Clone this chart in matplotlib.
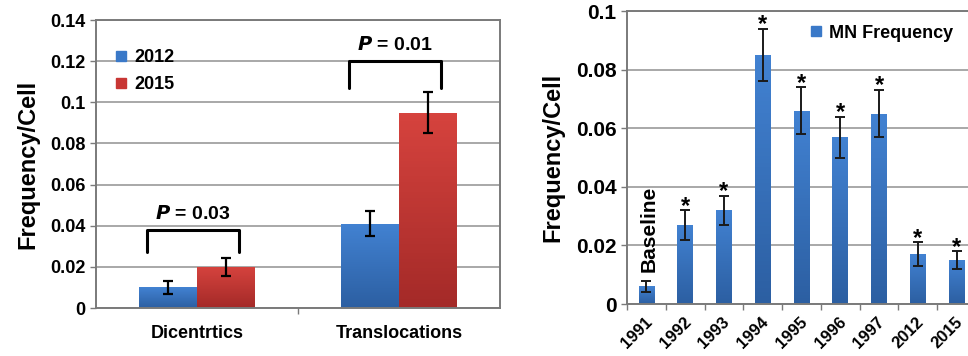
import numpy as np
import matplotlib
matplotlib.use("Agg")
import matplotlib.pyplot as plt
from matplotlib.lines import Line2D
from matplotlib.colors import LinearSegmentedColormap

plt.rcParams['font.family'] = ['Liberation Sans', 'DejaVu Sans']
plt.rcParams['font.weight'] = 'bold'

# left panel: chromosome aberrations
categories = ["Dicentrtics", "Translocations"]
years_left = ["2012", "2015"]
vals_2012 = [0.010, 0.041]
err_2012 = [0.003, 0.006]
vals_2015 = [0.020, 0.095]
err_2015 = [0.0045, 0.010]
p_labels = ["0.03", "0.01"]

# right panel: micronucleus frequency
years = ["1991", "1992", "1993", "1994", "1995", "1996", "1997", "2012", "2015"]
mn_vals = [0.006, 0.027, 0.032, 0.085, 0.066, 0.057, 0.065, 0.017, 0.015]
mn_err = [0.002, 0.005, 0.005, 0.009, 0.008, 0.007, 0.008, 0.004, 0.003]
significant = [False, True, True, True, True, True, True, True, True]

BLUE = "#3a79c8"
RED = "#c83634"
GRID = "#a8a8a8"
SPINE = "#7a7a7a"
blue_grad = LinearSegmentedColormap.from_list("b", ["#2c5fa2", "#4282d2"])
red_grad = LinearSegmentedColormap.from_list("r", ["#a42a28", "#d6433e"])

fig = plt.figure(figsize=(9.68, 3.56), dpi=100)
ax1 = fig.add_axes([0.0992, 0.1348, 0.4174, 0.809])
ax2 = fig.add_axes([0.6477, 0.146, 0.3605, 0.823])


def style(ax):
    ax.set_axisbelow(True)
    ax.yaxis.grid(True, color=GRID, linewidth=1.4)
    for s in ax.spines.values():
        s.set_color(SPINE)
        s.set_linewidth(1.4)
    ax.tick_params(axis='both', colors=SPINE, width=1.0, length=4)


def shade(ax, bars, cmap):
    # vertical gradient inside each bar, dark at the bottom
    grad = np.linspace(0, 1, 64).reshape(-1, 1)
    for b in bars:
        x0, y0 = b.get_x(), b.get_y()
        x1, y1 = x0 + b.get_width(), y0 + b.get_height()
        im = ax.imshow(grad, cmap=cmap, origin='lower', aspect='auto',
                       extent=(x0, x1, y0, y1), zorder=b.get_zorder())
        im.set_clip_path(b)


# ---- left panel
style(ax1)
x = np.arange(len(categories))
w = 0.285
b1 = ax1.bar(x - w / 2, vals_2012, w, color=BLUE, label=years_left[0])
b2 = ax1.bar(x + w / 2, vals_2015, w, color=RED, label=years_left[1])
ax1.set_xlim(-0.5, 1.5)
ax1.set_ylim(0, 0.14)
shade(ax1, b1, blue_grad)
shade(ax1, b2, red_grad)
ekw = dict(fmt='none', ecolor='black', elinewidth=1.6, capsize=3.5, capthick=1.6, zorder=5)
ax1.errorbar(x - w / 2, vals_2012, yerr=err_2012, **ekw)
ax1.errorbar(x + w / 2, vals_2015, yerr=err_2015, **ekw)

ax1.set_yticks(np.arange(0, 0.141, 0.02))
ax1.set_yticklabels(["0", "0.02", "0.04", "0.06", "0.08", "0.1", "0.12", "0.14"])
ax1.set_xticks([0.5])
ax1.set_xticklabels([""])
for xi, c in zip(x, categories):
    ax1.text(xi, -0.0085, c, ha='center', va='top', fontsize=13, fontweight='bold')
for lab in ax1.get_yticklabels():
    lab.set_fontsize(13)
    lab.set_color('black')
ax1.set_ylabel("Frequency/Cell", fontsize=17, fontweight='bold', labelpad=8)

# significance brackets
levels = [(0.038, 0.027), (0.120, 0.107)]
for xi, (top, leg), p in zip(x, levels, p_labels):
    xl, xr = xi - 0.25, xi + 0.21
    ax1.plot([xl, xl, xr, xr], [leg, top, top, leg], color='black', lw=2.2,
             solid_joinstyle='round', solid_capstyle='round')
    ax1.text((xl + xr) / 2, top + 0.0035, f"$\\mathbf{{\\it{{P}}}}$ = {p}", ha='center',
             va='bottom', fontsize=14, fontweight='bold')

handles = [Line2D([], [], marker='s', ls='none', color=c, markersize=7) for c in (BLUE, RED)]
ax1.legend(handles, years_left, loc='upper left', bbox_to_anchor=(0.0, 0.955), frameon=False,
           fontsize=13, handletextpad=0.2, labelspacing=0.55, handlelength=1.0)

# ---- right panel
style(ax2)
xr_ = np.arange(len(years))
b3 = ax2.bar(xr_, mn_vals, 0.4, color=BLUE, label="MN Frequency")
ax2.set_xlim(-0.5, len(years) - 0.5)
ax2.set_ylim(0, 0.1)
shade(ax2, b3, blue_grad)
ax2.errorbar(xr_, mn_vals, yerr=mn_err, fmt='none', ecolor='#1a1a1a', elinewidth=1.4,
             capsize=3.5, capthick=1.4, zorder=5)
for xi, v, e, s in zip(xr_, mn_vals, mn_err, significant):
    if s:
        ax2.text(xi, v + e - 0.0025, "*", ha='center', va='bottom', fontsize=17, fontweight='bold')
ax2.text(xr_[0] + 0.06, mn_vals[0] + mn_err[0] + 0.0028, "Baseline", rotation=90, ha='center',
         va='bottom', fontsize=15, fontweight='bold')

ax2.set_yticks(np.arange(0, 0.101, 0.02))
ax2.set_yticklabels(["0", "0.02", "0.04", "0.06", "0.08", "0.1"])
ax2.set_xticks(xr_ - 0.5)
ax2.set_xticklabels([])
for xi, yl in zip(xr_, years):
    ax2.text(xi - 0.05, -0.0035, yl, rotation=45, ha='right', va='top', rotation_mode='anchor',
             fontsize=12, fontweight='bold')
for lab in ax2.get_yticklabels():
    lab.set_fontsize(15)
    lab.set_color('black')
ax2.set_ylabel("Frequency/Cell", fontsize=17, fontweight='bold', labelpad=8)
h2 = [Line2D([], [], marker='s', ls='none', color=BLUE, markersize=7)]
ax2.legend(h2, ["MN Frequency"], loc='center left', bbox_to_anchor=(0.47, 0.925), frameon=False,
           fontsize=13, handletextpad=0.2, handlelength=1.0)

fig.savefig("out.png", dpi=100)
